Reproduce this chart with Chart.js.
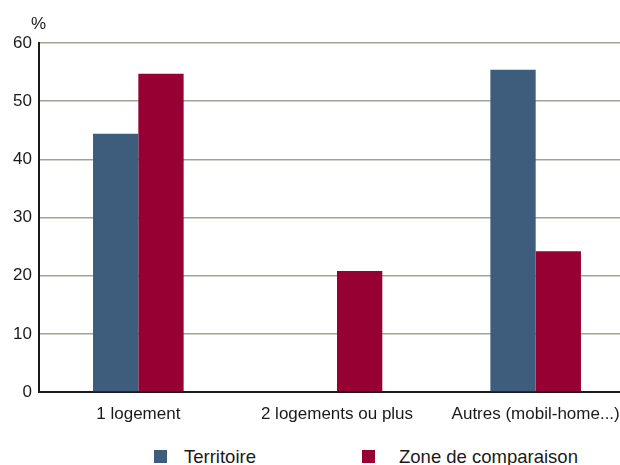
<!DOCTYPE html>
<html>
<head>
<meta charset="utf-8">
<script src="https://cdn.jsdelivr.net/npm/chart.js@4"></script>
<style>
  body { margin: 0; background: #fff; overflow: hidden; font-family: "Liberation Sans", Arial, sans-serif; }
  #wrap { position: relative; width: 620px; height: 465px; overflow: hidden; }
  #box { position: absolute; left: 0; top: 0; width: 636px; height: 425px; }
  .leg { position: absolute; top: 446px; font-size: 18.5px; line-height: 22px; color: #1a1a1a; }
  .leg span { position: absolute; top: 4px; width: 13px; height: 13px; }
</style>
</head>
<body>
<div id="wrap">
  <div id="box"><canvas id="myChart"></canvas></div>
  <div class="leg" style="left:154px"><span style="left:0;background:#3e5c7b"></span><div style="margin-left:30px">Territoire</div></div>
  <div class="leg" style="left:362px"><span style="left:0;background:#960032"></span><div style="margin-left:37px;white-space:nowrap">Zone de comparaison</div></div>
</div>
<script>
var categories = ['1 logement', '2 logements ou plus', 'Autres (mobil-home...)'];
var territoire = [44.4, 0, 55.4];
var comparaison = [54.7, 20.8, 24.2];
var yTicks = [0, 10, 20, 30, 40, 50, 60];

var blue = '#3e5c7b';
var red = '#960032';
var fontFam = '"Liberation Sans", Arial, sans-serif';

// petit titre "%" au-dessus de l'axe
var percentTitle = {
  id: 'percentTitle',
  afterDraw: function(chart) {
    var ctx = chart.ctx;
    ctx.save();
    ctx.font = '17px ' + fontFam;
    ctx.fillStyle = '#1a1a1a';
    ctx.textAlign = 'left';
    ctx.textBaseline = 'middle';
    ctx.fillText('%', 31, 24);
    ctx.restore();
  }
};

var ctx = document.getElementById('myChart');
var chart = new Chart(ctx, {
  type: 'bar',
  data: {
    labels: categories,
    datasets: [{
      label: 'Territoire',
      backgroundColor: blue,
      data: territoire,
      categoryPercentage: 0.456,
      barPercentage: 1
    }, {
      label: 'Zone de comparaison',
      backgroundColor: red,
      data: comparaison,
      categoryPercentage: 0.456,
      barPercentage: 1
    }]
  },
  options: {
    responsive: true,
    maintainAspectRatio: false,
    animation: false,
    layout: { padding: { top: 43, right: 1, left: 0, bottom: 0 } },
    plugins: {
      legend: { display: false },
      tooltip: { enabled: false }
    },
    scales: {
      x: {
        grid: { display: false },
        border: { color: '#1a1a1a', width: 2 },
        ticks: {
          color: '#1a1a1a',
          padding: 4,
          maxRotation: 0,
          font: { family: fontFam, size: 17 }
        },
        afterFit: function(scale) { scale.height = 33; }
      },
      y: {
        min: 0,
        max: 60,
        afterBuildTicks: function(scale) {
          scale.ticks = yTicks.map(function(v) { return { value: v }; });
        },
        grid: { color: '#a3a394', lineWidth: 1.5, drawTicks: false },
        border: { color: '#1a1a1a', width: 2 },
        ticks: {
          color: '#1a1a1a',
          padding: 7,
          font: { family: fontFam, size: 17 }
        },
        afterFit: function(scale) { scale.width = 39; }
      }
    }
  },
  plugins: [percentTitle]
});
</script>
</body>
</html>
